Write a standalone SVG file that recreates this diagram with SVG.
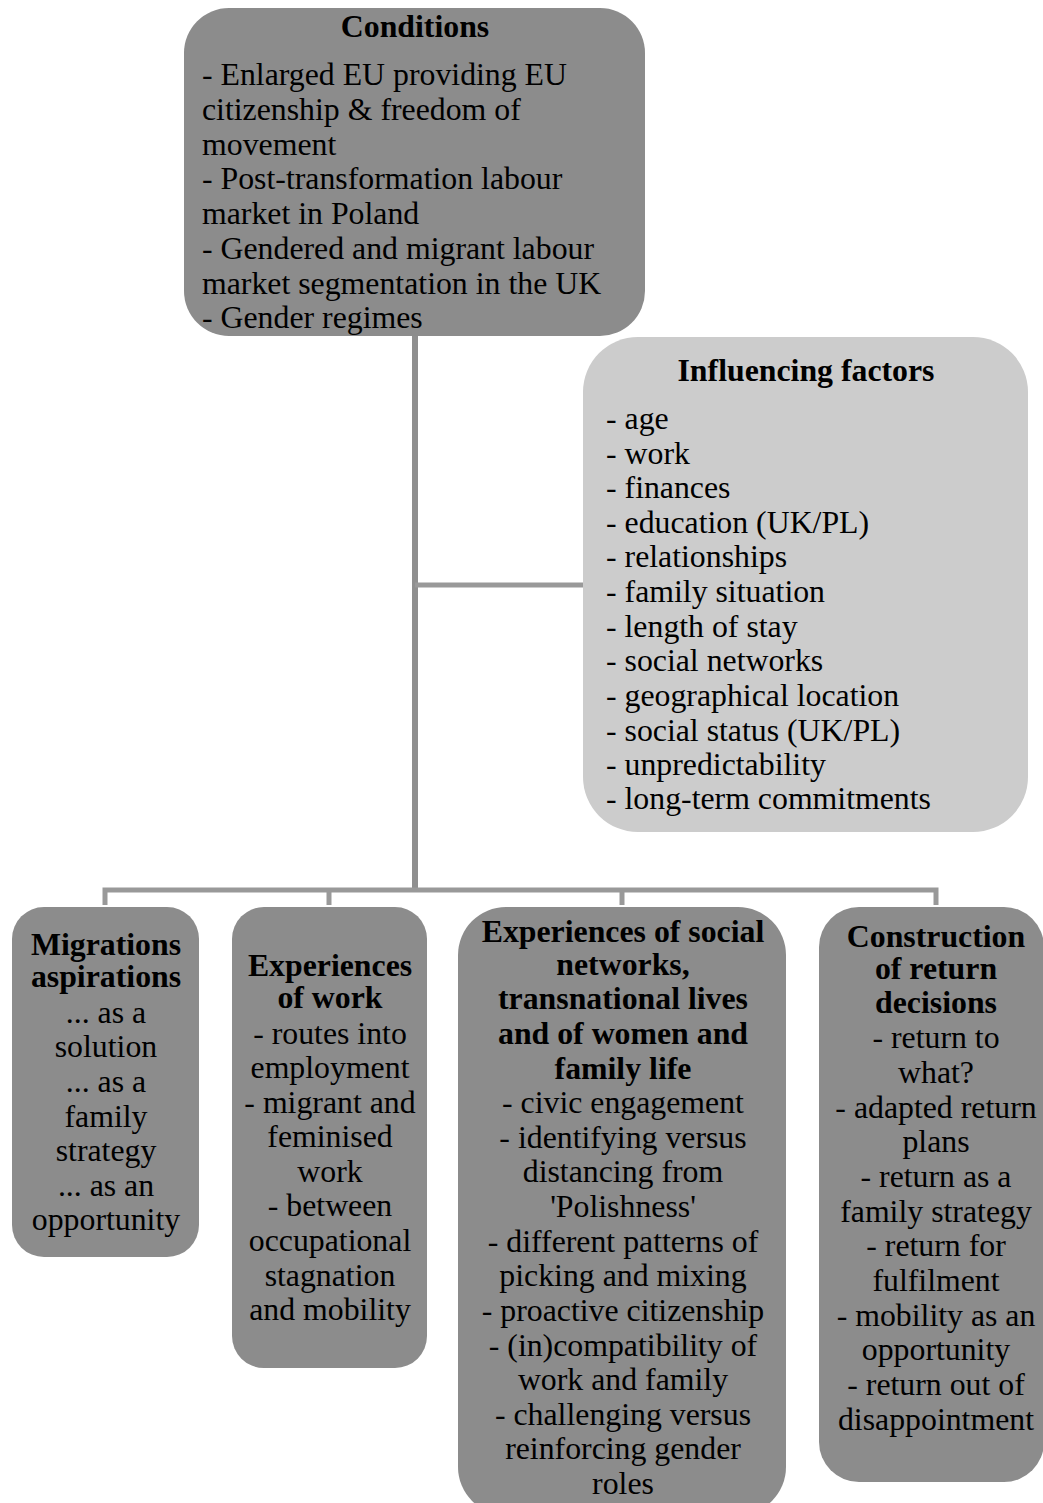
<svg xmlns="http://www.w3.org/2000/svg" width="1043" height="1503" viewBox="0 0 1043 1503">
  <style>
    .dark { fill: #8c8c8c; }
    .light { fill: #cccccc; }
    text { font-family: "Liberation Serif", "Times New Roman", serif; font-size: 31.8px; fill: #000; }
    .b { font-weight: bold; }
    .c { text-anchor: middle; }
    .wire { stroke: #999999; stroke-width: 5; fill: none; }
    .trunk { stroke: #8f8f8f; stroke-width: 6; fill: none; }
  </style>
  <rect width="1043" height="1503" fill="#ffffff"/>

  <!-- connectors -->
  <g id="connectors">
    <line class="trunk" x1="415" y1="336" x2="415" y2="890"/>
    <line class="wire" x1="415" y1="585" x2="583" y2="585"/>
    <polyline class="wire" points="105,905 105,890 936,890 936,905"/>
    <line class="wire" x1="329" y1="890" x2="329" y2="905"/>
    <line class="wire" x1="622" y1="890" x2="622" y2="905"/>
  </g>

  <!-- text positions are shifted 1px down through this group -->
  <g transform="translate(0,1)">
  <!-- Conditions -->
  <g id="conditions">
    <rect class="dark" x="184" y="7" width="461" height="328" rx="45" ry="45"/>
    <text class="b c" x="415" y="36">Conditions</text>
    <text x="202" y="84">- Enlarged EU providing EU</text>
    <text x="202" y="119">citizenship &amp; freedom of</text>
    <text x="202" y="154">movement</text>
    <text x="202" y="188">- Post-transformation labour</text>
    <text x="202" y="223">market in Poland</text>
    <text x="202" y="258">- Gendered and migrant labour</text>
    <text x="202" y="293">market segmentation in the UK</text>
    <text x="202" y="327">- Gender regimes</text>
  </g>

  <!-- Influencing factors -->
  <g id="influencing-factors">
    <rect class="light" x="583" y="336" width="445" height="495" rx="55" ry="55"/>
    <text class="b c" x="806" y="380">Influencing factors</text>
    <text x="606" y="428">- age</text>
    <text x="606" y="463">- work</text>
    <text x="606" y="497">- finances</text>
    <text x="606" y="532">- education (UK/PL)</text>
    <text x="606" y="566">- relationships</text>
    <text x="606" y="601">- family situation</text>
    <text x="606" y="636">- length of stay</text>
    <text x="606" y="670">- social networks</text>
    <text x="606" y="705">- geographical location</text>
    <text x="606" y="740">- social status (UK/PL)</text>
    <text x="606" y="774">- unpredictability</text>
    <text x="606" y="808">- long-term commitments</text>
  </g>

  <!-- Migrations aspirations -->
  <g id="migration-aspirations">
    <rect class="dark" x="12" y="906" width="187" height="350" rx="32" ry="32"/>
    <text class="b c" x="106" y="954">Migrations</text>
    <text class="b c" x="106" y="986">aspirations</text>
    <text class="c" x="106" y="1022">... as a</text>
    <text class="c" x="106" y="1056">solution</text>
    <text class="c" x="106" y="1091">... as a</text>
    <text class="c" x="106" y="1126">family</text>
    <text class="c" x="106" y="1160">strategy</text>
    <text class="c" x="106" y="1195">... as an</text>
    <text class="c" x="106" y="1229">opportunity</text>
  </g>

  <!-- Experiences of work -->
  <g id="experiences-of-work">
    <rect class="dark" x="232" y="906" width="195" height="461" rx="32" ry="32"/>
    <text class="b c" x="330" y="975">Experiences</text>
    <text class="b c" x="330" y="1007">of work</text>
    <text class="c" x="330" y="1043">- routes into</text>
    <text class="c" x="330" y="1077">employment</text>
    <text class="c" x="330" y="1112">- migrant and</text>
    <text class="c" x="330" y="1146">feminised</text>
    <text class="c" x="330" y="1181">work</text>
    <text class="c" x="330" y="1215">- between</text>
    <text class="c" x="330" y="1250">occupational</text>
    <text class="c" x="330" y="1285">stagnation</text>
    <text class="c" x="330" y="1319">and mobility</text>
  </g>

  <!-- Experiences of social networks -->
  <g id="experiences-of-social-networks">
    <rect class="dark" x="458" y="906" width="328" height="608" rx="48" ry="48"/>
    <text class="b c" x="623" y="941">Experiences of social</text>
    <text class="b c" x="623" y="974">networks,</text>
    <text class="b c" x="623" y="1008">transnational lives</text>
    <text class="b c" x="623" y="1043">and of women and</text>
    <text class="b c" x="623" y="1078">family life</text>
    <text class="c" x="623" y="1112">- civic engagement</text>
    <text class="c" x="623" y="1147">- identifying versus</text>
    <text class="c" x="623" y="1181">distancing from</text>
    <text class="c" x="623" y="1216">'Polishness'</text>
    <text class="c" x="623" y="1251">- different patterns of</text>
    <text class="c" x="623" y="1285">picking and mixing</text>
    <text class="c" x="623" y="1320">- proactive citizenship</text>
    <text class="c" x="623" y="1355">- (in)compatibility of</text>
    <text class="c" x="623" y="1389">work and family</text>
    <text class="c" x="623" y="1424">- challenging versus</text>
    <text class="c" x="623" y="1458">reinforcing gender</text>
    <text class="c" x="623" y="1493">roles</text>
  </g>

  <!-- Construction of return decisions -->
  <g id="return-decisions">
    <rect class="dark" x="819" y="906" width="225" height="575" rx="40" ry="40"/>
    <text class="b c" x="936" y="946">Construction</text>
    <text class="b c" x="936" y="978">of return</text>
    <text class="b c" x="936" y="1012">decisions</text>
    <text class="c" x="936" y="1047">- return to</text>
    <text class="c" x="936" y="1082">what?</text>
    <text class="c" x="936" y="1117">- adapted return</text>
    <text class="c" x="936" y="1151">plans</text>
    <text class="c" x="936" y="1186">- return as a</text>
    <text class="c" x="936" y="1221">family strategy</text>
    <text class="c" x="936" y="1255">- return for</text>
    <text class="c" x="936" y="1290">fulfilment</text>
    <text class="c" x="936" y="1325">- mobility as an</text>
    <text class="c" x="936" y="1359">opportunity</text>
    <text class="c" x="936" y="1394">- return out of</text>
    <text class="c" x="936" y="1429">disappointment</text>
  </g>
  </g>
</svg>
